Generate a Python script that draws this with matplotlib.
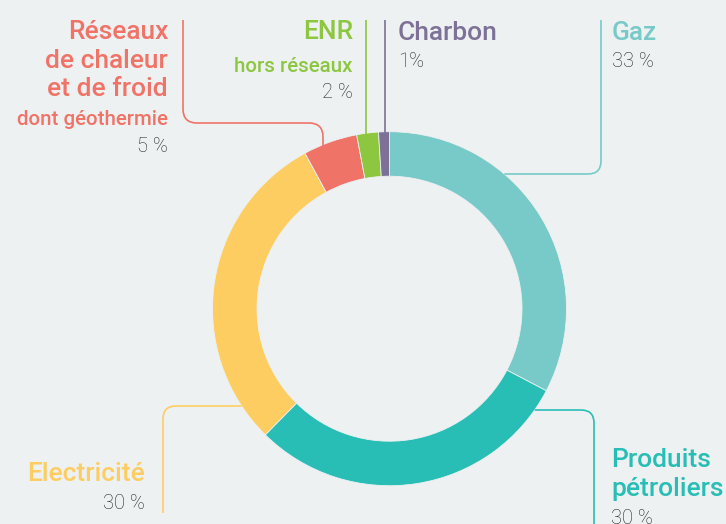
import numpy as np
import matplotlib
matplotlib.use("Agg")
import matplotlib.pyplot as plt
from matplotlib.path import Path
from matplotlib.patches import PathPatch

# ---- data ----
categories = ["Gaz", "Produits pétroliers", "Electricité",
              "Réseaux de chaleur et de froid", "ENR hors réseaux", "Charbon"]
values = [33, 30, 30, 5, 2, 1]
pct_labels = ["33 %", "30 %", "30 %", "5 %", "2 %", "1%"]
colors = ["#77CAC8", "#28BEB5", "#FECD61", "#F07367", "#8DC63F", "#7D7198"]

W, H = 726, 524
BG = "#EDF1F2"
DARK = "#262626"
plt.rcParams['font.family'] = ['Roboto', 'DejaVu Sans']

fig = plt.figure(figsize=(W / 100, H / 100), dpi=100, facecolor=BG)
ax = fig.add_axes([0, 0, 1, 1])
ax.set_facecolor(BG)

CX, CY, R = 389.5, 308.7, 177.0   # pixel coords (y down)
RIN = 132.5


def Y(y):
    return H - y


ax.pie(values, colors=colors, startangle=90, counterclock=False,
       center=(CX, Y(CY)), radius=R,
       wedgeprops=dict(width=R - RIN, linewidth=0.6, edgecolor=BG))
ax.set_xlim(0, W)
ax.set_ylim(0, H)
ax.set_aspect('equal')
ax.axis('off')


def circle_x(y, side):
    dy = y - CY
    return CX + side * np.sqrt(R ** 2 - dy ** 2)


def circle_y(x):
    dx = x - CX
    return CY - np.sqrt(R ** 2 - dx ** 2)


def rounded(points, rad=13):
    verts, codes = [], []
    pts = [np.array(p, float) for p in points]
    verts.append(pts[0]); codes.append(Path.MOVETO)
    for i in range(1, len(pts) - 1):
        p0, p1, p2 = pts[i - 1], pts[i], pts[i + 1]
        d1 = (p0 - p1) / np.linalg.norm(p0 - p1)
        d2 = (p2 - p1) / np.linalg.norm(p2 - p1)
        a = p1 + d1 * rad
        b = p1 + d2 * rad
        verts += [a, p1, b]
        codes += [Path.LINETO, Path.CURVE3, Path.CURVE3]
    verts.append(pts[-1]); codes.append(Path.LINETO)
    verts = [(v[0], Y(v[1])) for v in verts]
    return Path(verts, codes)


def leader(points, color, rad=13):
    ax.add_patch(PathPatch(rounded(points, rad), fill=False, edgecolor=color,
                           linewidth=1.2, capstyle='butt', joinstyle='round'))


# leader lines
leader([(601, 20), (601, 174), (circle_x(174, 1), 174)], colors[0])
leader([(circle_x(410, 1), 410), (594, 410), (594, 530)], colors[1])
leader([(circle_x(406, -1), 406), (163, 406), (163, 513)], colors[2])
leader([(183, 20), (183, 123), (323, 123), (323, circle_y(323) + 1)], colors[3], rad=14)
leader([(366, 20), (366, circle_y(366) + 1)], colors[4])
leader([(384.7, 20), (384.7, circle_y(384.7) + 1)], colors[5])

TS = 19.0   # title size (pt)
SS = 14.8   # subtitle size
PS = 14.5   # percentage size


def txt(x, y, s, color, size, ha, weight='medium'):
    ax.text(x, Y(y), s, color=color, fontsize=size, ha=ha, va='baseline',
            fontweight=weight)


# Gaz
txt(612, 40, "Gaz", colors[0], TS, 'left')
txt(612, 67, pct_labels[0], DARK, PS, 'left', 'light')
# Produits pétroliers
txt(611, 467, "Produits", colors[1], TS, 'left')
txt(611, 496, "pétroliers", colors[1], TS, 'left')
txt(611, 524, pct_labels[1], DARK, PS, 'left', 'light')
# Electricité
txt(145, 481, "Electricité", colors[2], TS, 'right')
txt(145, 509, pct_labels[2], DARK, PS, 'right', 'light')
# Réseaux
txt(168, 39, "Réseaux", colors[3], TS, 'right')
txt(168, 68, "de chaleur", colors[3], TS, 'right')
txt(168, 96.5, "et de froid", colors[3], TS, 'right')
txt(168, 125, "dont géothermie", colors[3], SS, 'right')
txt(168, 152.5, pct_labels[3], DARK, PS, 'right', 'light')
# ENR
txt(353, 39, "ENR", colors[4], TS, 'right')
txt(353, 71.5, "hors réseaux", colors[4], SS, 'right')
txt(353, 98, pct_labels[4], DARK, PS, 'right', 'light')
# Charbon
txt(398, 40, "Charbon", colors[5], TS, 'left')
txt(398, 67, pct_labels[5], DARK, PS, 'left', 'light')

fig.savefig("out.png", dpi=100, facecolor=BG)
